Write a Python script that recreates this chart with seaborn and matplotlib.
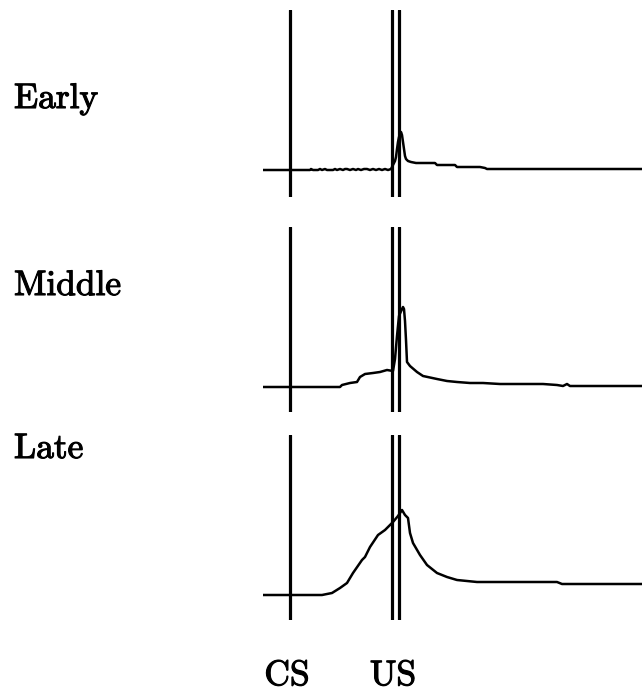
import matplotlib
matplotlib.use("Agg")
import matplotlib.pyplot as plt
import matplotlib.patheffects as pe
import seaborn as sns
import pandas as pd

# Time axis in sample steps, stimulus onset (CS) at 0
CS_TIME = 0
US_ON = 102
US_OFF = 109

stages = ["Early", "Middle", "Late"]
event_labels = ["CS", "US"]

# Early training: flat response, short reflexive blink at the US
early_t = [-27, -10, 0, 20, 21, 23, 28, 30, 32, 35, 37, 43, 45, 47, 50, 53, 55, 57,
           60, 63, 66, 68, 71, 74, 77, 80, 83, 86, 89, 92, 95, 98, 101, 103, 105,
           106, 107, 108, 109, 111, 112, 113, 114, 115, 116, 118, 121, 126, 145,
           147, 165, 167, 190, 195, 197, 250, 352]
early_r = [0, 0, 0, 0, 1, 0, 0, 1, 0, 1, 0, 0, 1, 0, 1, 0, 1, 1,
           0, 1, 0, 1, 0, 1, 1, 0, 1, 0, 1, 0, 1, 0, 1, 5, 9,
           13, 21, 28, 33, 38, 35, 28, 21, 14, 11, 9, 8, 7, 7,
           5, 5, 3, 3, 2, 1, 1, 1]

# Middle training: small anticipatory rise before the US
middle_t = [-27, 0, 50, 52, 60, 67, 70, 75, 83, 90, 97, 103, 105, 107, 109, 112,
            113, 114, 115, 116, 117, 120, 127, 133, 147, 157, 167, 180, 193, 210,
            253, 267, 273, 277, 280, 352]
middle_r = [0, 0, 0, 2, 4, 5, 10, 13, 14, 15, 17, 16, 28, 51, 71, 78,
            80, 78, 66, 47, 25, 21, 15, 11, 8, 6, 5, 4, 4, 3,
            3, 2, 1, 3, 1, 1]

# Late training: conditioned response peaking at the US
late_t = [-27, 0, 32, 42, 50, 57, 63, 72, 75, 80, 88, 95, 103, 108, 112, 115,
          118, 120, 123, 130, 137, 147, 157, 167, 187, 267, 272, 352]
late_r = [0, 0, 0, 2, 7, 12, 22, 35, 38, 48, 60, 65, 73, 79, 85, 80,
          77, 62, 52, 40, 30, 22, 18, 15, 13, 13, 11, 11]

series = {
    "Early": (early_t, early_r),
    "Middle": (middle_t, middle_r),
    "Late": (late_t, late_r),
}

sns.set_theme(style="white")
plt.rcParams["font.family"] = ["cmr10", "DejaVu Serif"]
plt.rcParams["axes.formatter.use_mathtext"] = True

W, H = 642, 693
fig = plt.figure(figsize=(W / 100, H / 100), dpi=100)

x_left, x_right = 263, 642
# top/bottom pixel rows of each panel
panel_rows = [(10, 197), (227, 412), (435, 620)]
label_baselines = [108, 295, 458]

text_style = dict(fontsize=25.5, color="black",
                  path_effects=[pe.withStroke(linewidth=0.8, foreground="black")])

for stage, (top, bottom), lab_y in zip(stages, panel_rows, label_baselines):
    ax = fig.add_axes([x_left / W, 1 - bottom / H,
                       (x_right - x_left) / W, (bottom - top) / H])
    t, r = series[stage]
    df = pd.DataFrame({"time": t, "response": r})
    sns.lineplot(data=df, x="time", y="response", ax=ax, color="black",
                 linewidth=1.8, estimator=None, sort=False)
    for xv in (CS_TIME, US_ON, US_OFF):
        ax.axvline(xv, color="black", linewidth=2.3)
    ax.set_xlim(-27, 352)
    ax.set_ylim(-(bottom - top) + 160, 160)
    ax.set_axis_off()
    fig.text(14 / W, 1 - lab_y / H, stage, ha="left", va="baseline",
             **text_style)

# event labels under the panels, aligned to the event times
for name, xv in zip(event_labels, [CS_TIME - 3, (US_ON + US_OFF) / 2 - 2.5]):
    x_pix = x_left + (xv + 27) / (352 + 27) * (x_right - x_left)
    fig.text(x_pix / W, 1 - 685 / H, name, ha="center", va="baseline",
             **text_style)

fig.savefig("out.png", dpi=100, facecolor="white")
